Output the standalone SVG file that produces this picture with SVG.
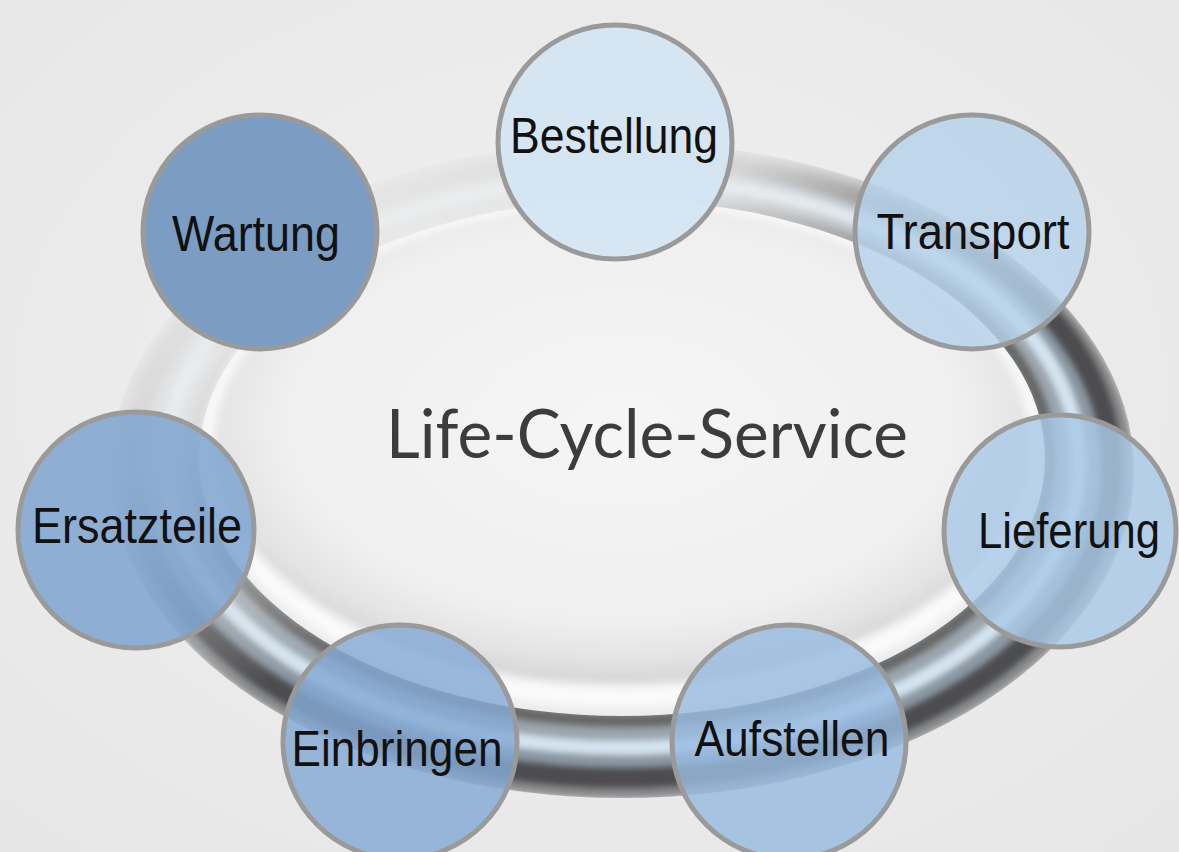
<svg xmlns="http://www.w3.org/2000/svg" width="1179" height="852" viewBox="0 0 1179 852">
  <defs>
    <style>
      .node circle { stroke: #9a9a9a; stroke-width: 5; }
      .lbl { font-family: "Liberation Sans", Arial, sans-serif; font-size: 50px; fill: #111; text-anchor: middle; }
      .title { font-family: Lato, "Open Sans", sans-serif; font-size: 68px; fill: #3c3c3c; text-anchor: middle; }
    </style>
    <radialGradient id="bg" cx="0.5" cy="0.45" r="0.75">
      <stop offset="0" stop-color="#f1f1f1"/>
      <stop offset="1" stop-color="#e6e6e6"/>
    </radialGradient>
    <radialGradient id="disk" cx="0.5" cy="0.45" r="0.55">
      <stop offset="0" stop-color="#f5f5f5"/>
      <stop offset="0.75" stop-color="#f0f0f0"/>
      <stop offset="0.92" stop-color="#e2e2e2"/>
      <stop offset="1" stop-color="#d2d2d2"/>
    </radialGradient>
    <linearGradient id="fadeG" gradientUnits="userSpaceOnUse" x1="300" y1="200" x2="550" y2="700">
      <stop offset="0" stop-color="#080808"/>
      <stop offset="0.3" stop-color="#262626"/>
      <stop offset="0.58" stop-color="#b8b8b8"/>
      <stop offset="0.75" stop-color="#ffffff"/>
    </linearGradient>
    <mask id="fade" maskUnits="userSpaceOnUse" x="0" y="0" width="1179" height="852">
      <rect x="0" y="0" width="1179" height="852" fill="url(#fadeG)"/>
    </mask>
    <clipPath id="ringClip">
      <path clip-rule="evenodd" d="M110,470 a512,328 0 1,0 1024,0 a512,328 0 1,0 -1024,0 Z M199,458 a423,258 0 1,0 846,0 a423,258 0 1,0 -846,0 Z"/>
    </clipPath>
    <filter id="soft" x="-5%" y="-5%" width="110%" height="110%">
      <feGaussianBlur stdDeviation="3"/>
    </filter>
    <filter id="soft2" x="-5%" y="-5%" width="110%" height="110%">
      <feGaussianBlur stdDeviation="5"/>
    </filter>
  </defs>

  <rect x="0" y="0" width="1179" height="852" fill="url(#bg)"/>

  <!-- inner glossy disk -->
  <g id="disk-area" filter="url(#soft2)">
    <ellipse cx="622" cy="452" rx="422" ry="256" fill="#fafafa"/>
    <ellipse cx="622" cy="445" rx="408" ry="240" fill="url(#disk)"/>
  </g>

  <!-- metallic ring -->
  <g id="ring" mask="url(#fade)">
    <g clip-path="url(#ringClip)" filter="url(#soft)" fill="none">
      <path d="M110,470 a512,328 0 1,0 1024,0 a512,328 0 1,0 -1024,0 Z" fill="#8d949a"/>
      <ellipse cx="622" cy="459" rx="428" ry="262" stroke="#666" stroke-width="12"/>
      <ellipse cx="622" cy="461" rx="443" ry="274" stroke="#9ba6ae" stroke-width="12"/>
      <ellipse cx="622" cy="463" rx="457" ry="285" stroke="#d4e4f0" stroke-width="14"/>
      <ellipse cx="622" cy="465" rx="472" ry="297" stroke="#8b99a4" stroke-width="10"/>
      <ellipse cx="622" cy="467" rx="490" ry="311" stroke="#4e4e50" stroke-width="22"/>
      <ellipse cx="622" cy="470" rx="508" ry="325" stroke="#8a8a8a" stroke-width="8"/>
    </g>
  </g>

  <text class="title" x="647" y="458" textLength="522" lengthAdjust="spacingAndGlyphs">Life-Cycle-Service</text>

  <g id="connectors"></g>

  <g id="node-bestellung" class="node">
    <circle cx="615" cy="142" r="117" fill="#d4e5f2" fill-opacity="0.95"/>
    <text class="lbl" x="614" y="153" textLength="208" lengthAdjust="spacingAndGlyphs">Bestellung</text>
  </g>
  <g id="node-transport" class="node">
    <circle cx="972" cy="232" r="117" fill="#b6d2ea" fill-opacity="0.82"/>
    <text class="lbl" x="973" y="249" textLength="193" lengthAdjust="spacingAndGlyphs">Transport</text>
  </g>
  <g id="node-lieferung" class="node">
    <circle cx="1060" cy="531" r="116" fill="#a9c9e8" fill-opacity="0.82"/>
    <text class="lbl" x="1069" y="548" textLength="182" lengthAdjust="spacingAndGlyphs">Lieferung</text>
  </g>
  <g id="node-aufstellen" class="node">
    <circle cx="789" cy="742" r="117" fill="#99bbe0" fill-opacity="0.82"/>
    <text class="lbl" x="792" y="756" textLength="195" lengthAdjust="spacingAndGlyphs">Aufstellen</text>
  </g>
  <g id="node-einbringen" class="node">
    <circle cx="400" cy="742" r="117" fill="#85a9d6" fill-opacity="0.82"/>
    <text class="lbl" x="397" y="766" textLength="211" lengthAdjust="spacingAndGlyphs">Einbringen</text>
  </g>
  <g id="node-ersatzteile" class="node">
    <circle cx="136" cy="530" r="118" fill="#80a4cf" fill-opacity="0.86"/>
    <text class="lbl" x="137" y="543" textLength="210" lengthAdjust="spacingAndGlyphs">Ersatzteile</text>
  </g>
  <g id="node-wartung" class="node">
    <circle cx="260" cy="232" r="117" fill="#7b9cc3"/>
    <text class="lbl" x="256" y="251" textLength="168" lengthAdjust="spacingAndGlyphs">Wartung</text>
  </g>
</svg>
